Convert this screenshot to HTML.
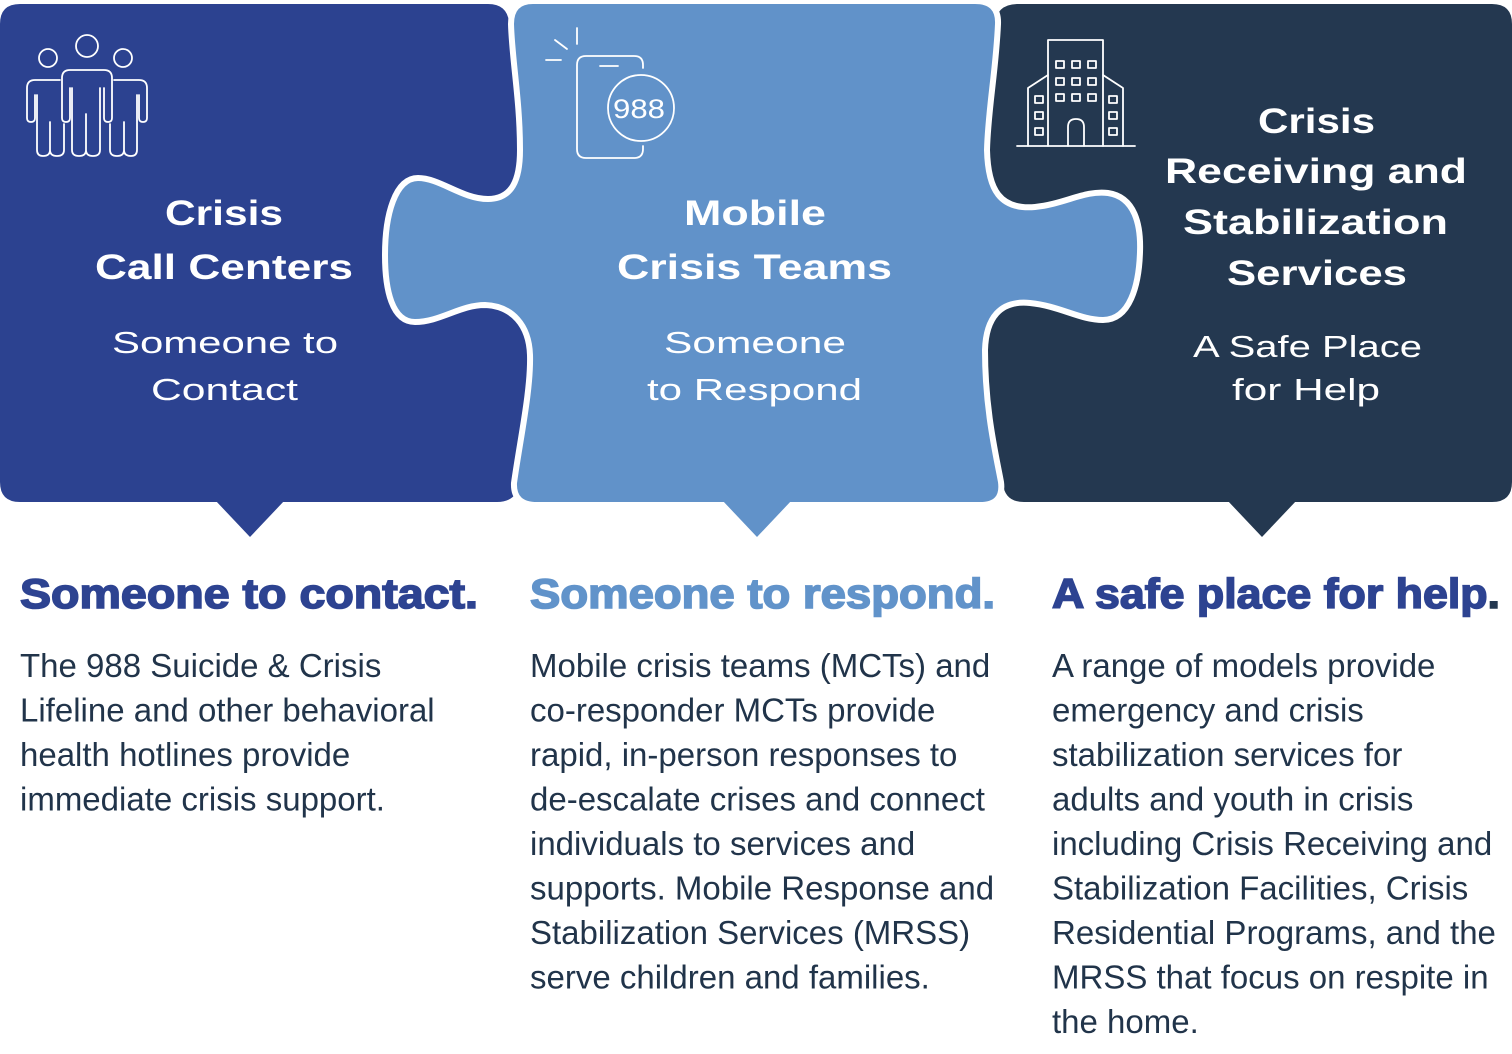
<!DOCTYPE html>
<html>
<head>
<meta charset="utf-8">
<style>
  html, body { margin: 0; padding: 0; background: #ffffff; }
  body { width: 1512px; height: 1054px; overflow: hidden; }
  svg { display: block; }
  .hd { font-family: "Liberation Sans", Arial, sans-serif; font-weight: 700; fill: #ffffff; font-size: 35px; }
  .sb { font-family: "Liberation Sans", Arial, sans-serif; font-weight: 400; fill: #ffffff; font-size: 31px; }
  .h2 { font-family: "Liberation Sans", Arial, sans-serif; font-weight: 700; font-size: 42px; stroke-width: 1.6px; }
  .bd { font-family: "Liberation Sans", Arial, sans-serif; font-weight: 400; font-size: 33px; fill: #21344a; }
  .ic { fill: none; stroke: #ffffff; stroke-width: 1.8; stroke-linecap: round; stroke-linejoin: round; }
</style>
</head>
<body>
<svg width="1512" height="1054" viewBox="0 0 1512 1054" xmlns="http://www.w3.org/2000/svg">
  <!-- Panel 1 (dark blue) -->
  <path fill="#2c4290" d="M 20,4 H 488 Q 507,4 509,22 C 513,60 519,100 522,150 L 540,160 L 540,340 L 533,360 C 532,400 524,445 520,482 Q 517,502 497,502 H 20 Q 0,502 0,482 V 24 Q 0,4 20,4 Z"/>
  <polygon fill="#2c4290" points="215,500 285,500 250,537"/>

  <!-- Panel 3 (navy) -->
  <path fill="#243850" d="M 1018,4 H 1492 Q 1512,4 1512,24 V 482 Q 1512,502 1492,502 H 1024 Q 1005,502 1003,484 C 998,455 982,410 980,350 L 975,340 L 975,160 L 982,150 C 983,110 991,70 994,26 Q 996,4 1018,4 Z"/>
  <polygon fill="#243850" points="1227,500 1297,500 1262,537"/>

  <!-- Panel 2 (light blue with knobs) -->
  <path fill="#6192c9" stroke="#ffffff" stroke-width="6" stroke-linejoin="round" d="M 533,1 H 975 Q 999,1 998,24 C 996,70 988,110 987,150 C 988,190 1000,210 1035,207 C 1065,204 1085,190 1108,193 C 1135,197 1141,225 1140,252 C 1139,285 1130,320 1103,320 C 1080,320 1060,306 1030,303 C 1000,300 986,318 985,350 C 985,410 996,455 1001,482 Q 1004,505 980,505 H 537 Q 513,505 514,483 C 520,440 531,390 530,355 C 529,325 512,306 485,305 C 460,305 440,322 415,322 C 392,322 385,290 385,255 C 385,215 395,178 418,178 C 440,178 462,199 488,199 C 512,199 520,180 520,150 C 520,100 512,60 511,24 Q 511,1 533,1 Z"/>
  <polygon fill="#6192c9" points="722,500 792,500 757,537"/>

  <!-- People icon -->
  <g class="ic">
    <circle cx="87" cy="46" r="11"/>
    <circle cx="48" cy="58" r="9"/>
    <circle cx="123" cy="58" r="9"/>
    <path d="M 60,80 H 35 Q 27,80 27,88 V 118 Q 27,122 31,122 Q 35,122 35,118 V 95 M 37,95 V 150 Q 37,156 43,156 Q 50,156 50,150 V 122 M 50,150 Q 50,156 57,156 Q 64,156 64,150 V 124"/>
    <path d="M 114,80 H 139 Q 147,80 147,88 V 118 Q 147,122 143,122 Q 139,122 139,118 V 95 M 137,95 V 150 Q 137,156 131,156 Q 124,156 124,150 V 122 M 124,150 Q 124,156 117,156 Q 110,156 110,150 V 124"/>
    <path d="M 70,88 V 118 Q 70,122 66,122 Q 62,122 62,118 V 78 Q 62,70 70,70 H 104 Q 112,70 112,78 V 118 Q 112,122 108,122 Q 104,122 104,118 V 88 M 72,88 V 150 Q 72,156 79,156 Q 86,156 86,150 V 114 M 86,150 Q 86,156 93,156 Q 100,156 100,150 V 88"/>
  </g>

  <!-- Phone 988 icon -->
  <g class="ic">
    <path d="M 643,68 V 65 Q 643,56 634,56 H 586 Q 577,56 577,65 V 149 Q 577,158 586,158 H 634 Q 643,158 643,149 V 146"/>
    <line x1="600" y1="66" x2="618" y2="66"/>
    <circle cx="641" cy="108" r="33"/>
    <line x1="546" y1="60" x2="561" y2="60"/>
    <line x1="555" y1="40" x2="567" y2="49"/>
    <line x1="577" y1="28" x2="577" y2="44"/>
  </g>
  <text x="613" y="118" font-family="'Liberation Sans', Arial, sans-serif" font-size="27" fill="#ffffff" textLength="52" lengthAdjust="spacingAndGlyphs">988</text>

  <!-- Building icon -->
  <g class="ic" stroke-width="1.8">
    <line x1="1017" y1="146" x2="1135" y2="146"/>
    <path d="M 1048,146 V 40 H 1103 V 146"/>
    <path d="M 1048,75 L 1028,88 V 146"/>
    <path d="M 1103,75 L 1123,88 V 146"/>
    <rect x="1056" y="61" width="8" height="7"/>
    <rect x="1072" y="61" width="8" height="7"/>
    <rect x="1088" y="61" width="8" height="7"/>
    <rect x="1056" y="78" width="8" height="7"/>
    <rect x="1072" y="78" width="8" height="7"/>
    <rect x="1088" y="78" width="8" height="7"/>
    <rect x="1056" y="94" width="8" height="7"/>
    <rect x="1072" y="94" width="8" height="7"/>
    <rect x="1088" y="94" width="8" height="7"/>
    <rect x="1035" y="96" width="8" height="7"/>
    <rect x="1035" y="112" width="8" height="7"/>
    <rect x="1035" y="128" width="8" height="7"/>
    <rect x="1109" y="96" width="8" height="7"/>
    <rect x="1109" y="112" width="8" height="7"/>
    <rect x="1109" y="128" width="8" height="7"/>
    <path d="M 1068,146 V 127 Q 1068,119 1076,119 Q 1084,119 1084,127 V 146"/>
  </g>

  <!-- Panel 1 text -->
  <text class="hd" x="165" y="225" textLength="118" lengthAdjust="spacingAndGlyphs">Crisis</text>
  <text class="hd" x="95" y="279" textLength="258" lengthAdjust="spacingAndGlyphs">Call Centers</text>
  <text class="sb" x="112" y="353" textLength="226" lengthAdjust="spacingAndGlyphs">Someone to</text>
  <text class="sb" x="151" y="400" textLength="147" lengthAdjust="spacingAndGlyphs">Contact</text>

  <!-- Panel 2 text -->
  <text class="hd" x="684" y="225" textLength="142" lengthAdjust="spacingAndGlyphs">Mobile</text>
  <text class="hd" x="617" y="279" textLength="275" lengthAdjust="spacingAndGlyphs">Crisis Teams</text>
  <text class="sb" x="664" y="353" textLength="182" lengthAdjust="spacingAndGlyphs">Someone</text>
  <text class="sb" x="647" y="400" textLength="215" lengthAdjust="spacingAndGlyphs">to Respond</text>

  <!-- Panel 3 text -->
  <text class="hd" x="1258" y="133" textLength="117" lengthAdjust="spacingAndGlyphs">Crisis</text>
  <text class="hd" x="1165" y="183" textLength="302" lengthAdjust="spacingAndGlyphs">Receiving and</text>
  <text class="hd" x="1183" y="234" textLength="265" lengthAdjust="spacingAndGlyphs">Stabilization</text>
  <text class="hd" x="1227" y="285" textLength="180" lengthAdjust="spacingAndGlyphs">Services</text>
  <text class="sb" x="1193" y="357" textLength="229" lengthAdjust="spacingAndGlyphs">A Safe Place</text>
  <text class="sb" x="1232" y="400" textLength="148" lengthAdjust="spacingAndGlyphs">for Help</text>

  <!-- Section headings -->
  <text class="h2" x="20" y="608" fill="#2d4391" stroke="#2d4391" textLength="458" lengthAdjust="spacingAndGlyphs">Someone to contact.</text>
  <text class="h2" x="530" y="608" fill="#6193ca" stroke="#6193ca" textLength="465" lengthAdjust="spacingAndGlyphs">Someone to respond.</text>
  <text class="h2" x="1052" y="608" fill="#2d4391" stroke="#2d4391" textLength="448" lengthAdjust="spacingAndGlyphs">A safe place for help<tspan fill="#243850" stroke="#243850">.</tspan></text>

  <!-- Column 1 body -->
  <text class="bd" x="20" y="677">The 988 Suicide &amp; Crisis</text>
  <text class="bd" x="20" y="721.5">Lifeline and other behavioral</text>
  <text class="bd" x="20" y="766">health hotlines provide</text>
  <text class="bd" x="20" y="810.5">immediate crisis support.</text>

  <!-- Column 2 body -->
  <text class="bd" x="530" y="677">Mobile crisis teams (MCTs) and</text>
  <text class="bd" x="530" y="721.5">co-responder MCTs provide</text>
  <text class="bd" x="530" y="766">rapid, in-person responses to</text>
  <text class="bd" x="530" y="810.5">de-escalate crises and connect</text>
  <text class="bd" x="530" y="855">individuals to services and</text>
  <text class="bd" x="530" y="899.5">supports. Mobile Response and</text>
  <text class="bd" x="530" y="944">Stabilization Services (MRSS)</text>
  <text class="bd" x="530" y="988.5">serve children and families.</text>

  <!-- Column 3 body -->
  <text class="bd" x="1052" y="677">A range of models provide</text>
  <text class="bd" x="1052" y="721.5">emergency and crisis</text>
  <text class="bd" x="1052" y="766">stabilization services for</text>
  <text class="bd" x="1052" y="810.5">adults and youth in crisis</text>
  <text class="bd" x="1052" y="855">including Crisis Receiving and</text>
  <text class="bd" x="1052" y="899.5">Stabilization Facilities, Crisis</text>
  <text class="bd" x="1052" y="944">Residential Programs, and the</text>
  <text class="bd" x="1052" y="988.5">MRSS that focus on respite in</text>
  <text class="bd" x="1052" y="1033">the home.</text>
</svg>
</body>
</html>
